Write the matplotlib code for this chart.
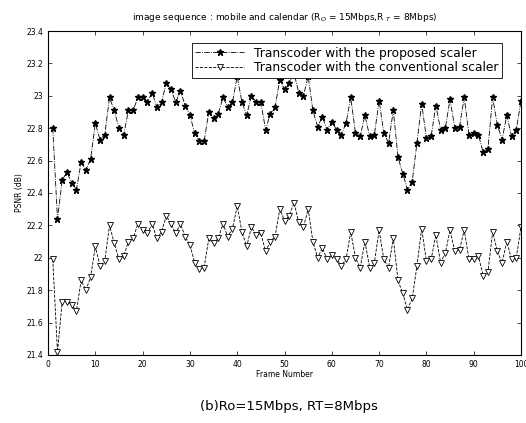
import matplotlib
matplotlib.use("Agg")
import matplotlib.pyplot as plt
import numpy as np

# frame numbers 1..100
frames = list(range(1, 101))

# PSNR (dB), transcoder with the proposed scaler
psnr_proposed = [
    22.80, 22.24, 22.48, 22.53, 22.46, 22.42, 22.59, 22.54, 22.61, 22.83,
    22.73, 22.76, 22.99, 22.91, 22.80, 22.76, 22.91, 22.91, 22.99, 22.99,
    22.96, 23.02, 22.93, 22.96, 23.08, 23.04, 22.96, 23.03, 22.94, 22.88,
    22.77, 22.72, 22.72, 22.90, 22.86, 22.89, 22.99, 22.93, 22.96, 23.12,
    22.96, 22.88, 23.00, 22.96, 22.96, 22.79, 22.89, 22.93, 23.10, 23.04,
    23.08, 23.14, 23.02, 23.00, 23.12, 22.91, 22.81, 22.87, 22.79, 22.84,
    22.79, 22.76, 22.83, 22.99, 22.77, 22.75, 22.88, 22.75, 22.76, 22.97,
    22.77, 22.71, 22.91, 22.62, 22.52, 22.42, 22.47, 22.71, 22.95, 22.74,
    22.75, 22.94, 22.79, 22.80, 22.98, 22.80, 22.81, 22.99, 22.76, 22.77,
    22.76, 22.65, 22.67, 22.99, 22.82, 22.73, 22.88, 22.75, 22.79, 22.97,
]

# PSNR (dB), transcoder with the conventional scaler
psnr_conventional = [
    21.99, 21.42, 21.73, 21.73, 21.71, 21.67, 21.86, 21.80, 21.88, 22.07,
    21.95, 21.98, 22.20, 22.09, 21.99, 22.01, 22.10, 22.12, 22.21, 22.17,
    22.15, 22.21, 22.12, 22.16, 22.26, 22.21, 22.15, 22.21, 22.13, 22.08,
    21.97, 21.93, 21.94, 22.12, 22.09, 22.12, 22.21, 22.13, 22.18, 22.32,
    22.16, 22.07, 22.19, 22.14, 22.15, 22.04, 22.10, 22.13, 22.30, 22.23,
    22.26, 22.34, 22.22, 22.19, 22.30, 22.10, 22.00, 22.06, 21.99, 22.02,
    21.99, 21.95, 21.99, 22.16, 22.00, 21.94, 22.10, 21.94, 21.97, 22.17,
    21.99, 21.94, 22.12, 21.86, 21.78, 21.68, 21.75, 21.95, 22.18, 21.98,
    21.99, 22.14, 21.97, 22.03, 22.17, 22.04, 22.05, 22.17, 21.99, 21.99,
    22.01, 21.89, 21.91, 22.16, 22.04, 21.97, 22.10, 21.99, 22.00, 22.19,
]

fig = plt.figure(figsize=(5.26, 4.23), dpi=100)
ax = fig.add_axes([0.0913, 0.1608, 0.8992, 0.7659])

ax.plot(frames, psnr_proposed, color="black", linestyle="-.", linewidth=0.6,
        marker="*", markersize=4.5, markerfacecolor="black",
        label="Transcoder with the proposed scaler")
ax.plot(frames, psnr_conventional, color="black", linestyle="--", linewidth=0.6,
        marker="v", markersize=5, markerfacecolor="white", markeredgewidth=0.6,
        label="Transcoder with the conventional scaler")

ax.set_xlim(0, 100)
ax.set_ylim(21.4, 23.4)
ax.set_xticks(np.arange(0, 101, 10))
ax.set_yticks(np.arange(21.4, 23.41, 0.2))
ax.set_yticklabels(["21.4", "21.6", "21.8", "22", "22.2", "22.4", "22.6",
                    "22.8", "23", "23.2", "23.4"])
ax.tick_params(direction="in", top=True, right=True, labelsize=5.5,
               length=3, width=0.5)
for s in ax.spines.values():
    s.set_linewidth(0.8)

ax.set_xlabel("Frame Number", fontsize=5.5, labelpad=1)
ax.set_ylabel("PSNR (dB)", fontsize=5.5, labelpad=2)
ax.set_title(r"image sequence : mobile and calendar (R$_{O}$ = 15Mbps,R $_{T}$ = 8Mbps)",
             fontsize=6.5, pad=8)

leg = ax.legend(loc="upper right", bbox_to_anchor=(0.973, 0.982), fontsize=8.8,
                fancybox=False, framealpha=1, edgecolor="black",
                handlelength=4.0, borderpad=0.3, labelspacing=0.1)
leg.get_frame().set_linewidth(0.6)

fig.text(0.55, 0.038, "(b)Ro=15Mbps, RT=8Mbps", ha="center", va="center",
         fontsize=9.5)

fig.savefig("out.png", dpi=100)
